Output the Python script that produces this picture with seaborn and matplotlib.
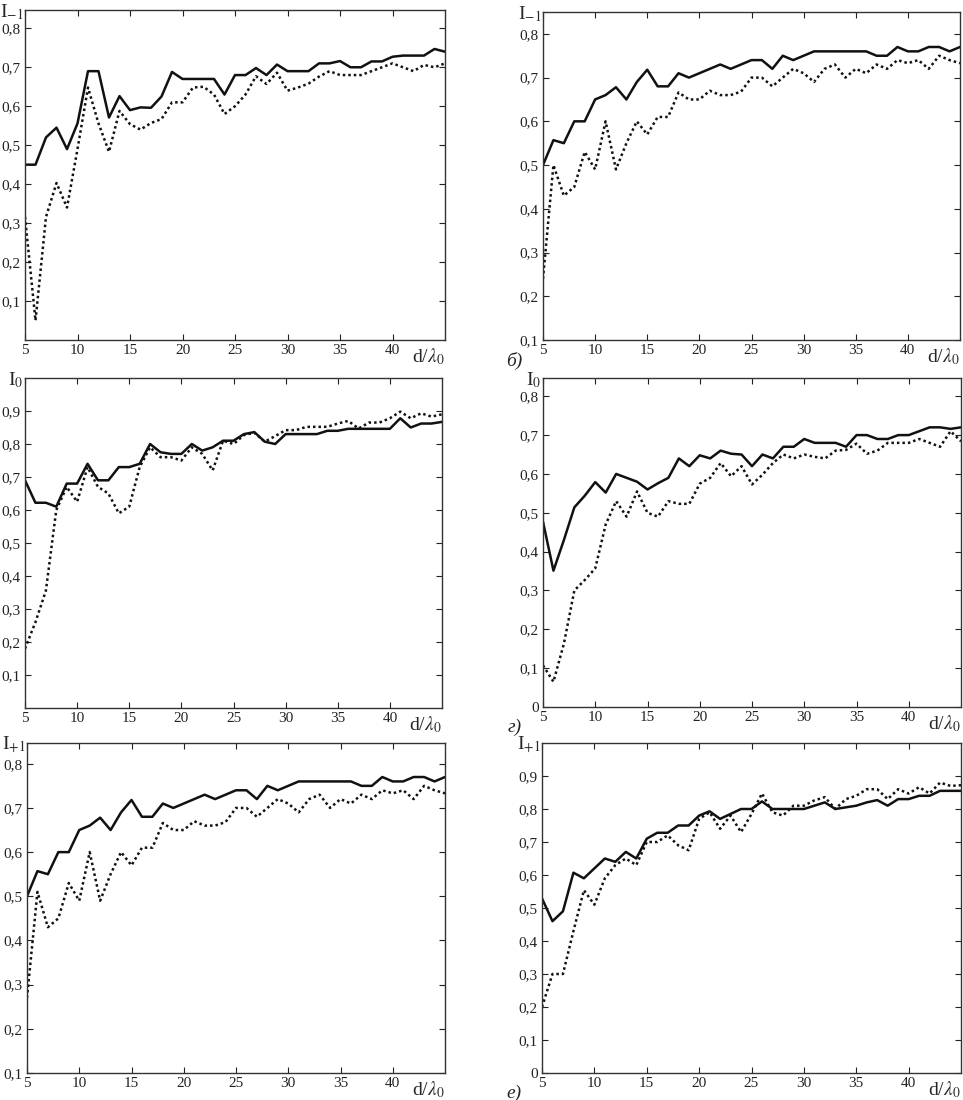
import numpy as np
import pandas as pd
import seaborn as sns
import matplotlib.pyplot as plt

# d/lambda_0 values, common to all panels
d_lambda = list(range(5, 46))

# panel a: I_-1
a_solid = [0.45, 0.45, 0.52, 0.545, 0.49, 0.556, 0.69, 0.69, 0.571, 0.626, 0.59, 0.597, 0.596, 0.625,
           0.688, 0.67, 0.67, 0.67, 0.67, 0.63, 0.68, 0.68, 0.698, 0.68, 0.707, 0.69, 0.69, 0.69, 0.71,
           0.71, 0.716, 0.70, 0.70, 0.715, 0.715, 0.727, 0.73, 0.73, 0.73, 0.747, 0.74]
a_dot = [0.316, 0.05, 0.316, 0.403, 0.34, 0.49, 0.648, 0.556, 0.483, 0.588, 0.554, 0.54, 0.557, 0.567,
         0.61, 0.61, 0.648, 0.65, 0.63, 0.58, 0.60, 0.63, 0.677, 0.657, 0.686, 0.64, 0.648, 0.658, 0.676,
         0.69, 0.68, 0.68, 0.68, 0.69, 0.70, 0.71, 0.70, 0.69, 0.706, 0.70, 0.71]

# panel b: I_-1
b_solid = [0.50, 0.557, 0.55, 0.60, 0.60, 0.65, 0.66, 0.678, 0.65, 0.69, 0.718, 0.68, 0.68, 0.71,
           0.70, 0.71, 0.72, 0.73, 0.72, 0.73, 0.74, 0.74, 0.72, 0.75, 0.74, 0.75, 0.76, 0.76, 0.76,
           0.76, 0.76, 0.76, 0.75, 0.75, 0.77, 0.76, 0.76, 0.77, 0.77, 0.76, 0.77]
b_dot = [0.24, 0.50, 0.43, 0.45, 0.53, 0.49, 0.60, 0.49, 0.55, 0.60, 0.57, 0.61, 0.61, 0.666,
         0.65, 0.65, 0.67, 0.66, 0.66, 0.668, 0.70, 0.70, 0.68, 0.70, 0.72, 0.71, 0.69, 0.72, 0.73,
         0.70, 0.72, 0.71, 0.73, 0.72, 0.74, 0.733, 0.74, 0.72, 0.75, 0.74, 0.733]

# panel c: I_0
c_solid = [0.69, 0.622, 0.622, 0.61, 0.68, 0.68, 0.74, 0.69, 0.69, 0.73, 0.73, 0.74, 0.80, 0.775,
           0.77, 0.77, 0.80, 0.78, 0.79, 0.81, 0.81, 0.83, 0.836, 0.807, 0.80, 0.83, 0.83, 0.83, 0.83,
           0.84, 0.84, 0.846, 0.846, 0.846, 0.846, 0.846, 0.878, 0.85, 0.862, 0.862, 0.867]
c_dot = [0.18, 0.26, 0.355, 0.60, 0.67, 0.625, 0.73, 0.67, 0.65, 0.59, 0.61, 0.73, 0.79, 0.76,
         0.76, 0.75, 0.79, 0.77, 0.72, 0.81, 0.80, 0.827, 0.834, 0.807, 0.824, 0.842, 0.842, 0.852,
         0.852, 0.852, 0.862, 0.87, 0.847, 0.865, 0.865, 0.878, 0.898, 0.878, 0.893, 0.883, 0.89]

# panel d: I_0
d_solid = [0.477, 0.351, 0.43, 0.514, 0.544, 0.579, 0.552, 0.60, 0.59, 0.58, 0.56, 0.576, 0.59, 0.64,
           0.62, 0.648, 0.64, 0.66, 0.652, 0.65, 0.62, 0.65, 0.64, 0.67, 0.67, 0.69, 0.68, 0.68, 0.68,
           0.67, 0.70, 0.70, 0.69, 0.69, 0.70, 0.70, 0.71, 0.72, 0.72, 0.716, 0.72]
d_dot = [0.107, 0.065, 0.163, 0.30, 0.327, 0.357, 0.47, 0.53, 0.49, 0.555, 0.50, 0.49, 0.53, 0.523,
         0.523, 0.575, 0.59, 0.628, 0.594, 0.62, 0.573, 0.598, 0.628, 0.65, 0.64, 0.65, 0.644, 0.64,
         0.66, 0.662, 0.678, 0.652, 0.66, 0.68, 0.68, 0.68, 0.69, 0.68, 0.67, 0.71, 0.684]

# panel e: I_+1
e_solid = [0.50, 0.557, 0.55, 0.60, 0.60, 0.65, 0.66, 0.678, 0.65, 0.69, 0.718, 0.68, 0.68, 0.71,
           0.70, 0.71, 0.72, 0.73, 0.72, 0.73, 0.74, 0.74, 0.72, 0.75, 0.74, 0.75, 0.76, 0.76, 0.76,
           0.76, 0.76, 0.76, 0.75, 0.75, 0.77, 0.76, 0.76, 0.77, 0.77, 0.76, 0.77]
e_dot = [0.27, 0.51, 0.43, 0.45, 0.53, 0.49, 0.60, 0.49, 0.55, 0.60, 0.57, 0.61, 0.61, 0.666,
         0.65, 0.65, 0.67, 0.66, 0.66, 0.668, 0.70, 0.70, 0.68, 0.70, 0.72, 0.71, 0.69, 0.72, 0.73,
         0.70, 0.72, 0.71, 0.73, 0.72, 0.74, 0.733, 0.74, 0.72, 0.75, 0.74, 0.733]

# panel f: I_+1
f_solid = [0.529, 0.46, 0.49, 0.607, 0.59, 0.62, 0.65, 0.64, 0.67, 0.65, 0.71, 0.728, 0.728, 0.75,
           0.75, 0.78, 0.793, 0.77, 0.785, 0.80, 0.80, 0.823, 0.80, 0.80, 0.80, 0.80, 0.81, 0.82, 0.80,
           0.805, 0.81, 0.82, 0.827, 0.81, 0.83, 0.83, 0.84, 0.84, 0.855, 0.855, 0.855]
f_dot = [0.20, 0.30, 0.30, 0.43, 0.554, 0.51, 0.59, 0.63, 0.65, 0.63, 0.70, 0.70, 0.72, 0.69,
         0.675, 0.77, 0.79, 0.74, 0.78, 0.73, 0.785, 0.847, 0.79, 0.78, 0.81, 0.81, 0.826, 0.836, 0.80,
         0.83, 0.84, 0.86, 0.86, 0.83, 0.86, 0.847, 0.866, 0.847, 0.88, 0.87, 0.872]

x_ticks = [5, 10, 15, 20, 25, 30, 35, 40]
x_tick_labels = ["5", "10", "15", "20", "25", "30", "35", "40"]

panels = [
    # solid, dotted, ylabel, ymin, ymax, yticks, sublabel, box (left, top, right, bottom px)
    (a_solid, a_dot, r"I$_{-1}$", 0.0, 0.847, [0.1, 0.2, 0.3, 0.4, 0.5, 0.6, 0.7, 0.8], "", (25, 10, 445, 340)),
    (b_solid, b_dot, r"I$_{-1}$", 0.1, 0.85, [0.1, 0.2, 0.3, 0.4, 0.5, 0.6, 0.7, 0.8], "б)", (543, 12, 960, 340)),
    (c_solid, c_dot, r"I$_0$", 0.0, 1.0, [0.1, 0.2, 0.3, 0.4, 0.5, 0.6, 0.7, 0.8, 0.9], "", (25, 378, 442, 708)),
    (d_solid, d_dot, r"I$_0$", 0.0, 0.847, [0.0, 0.1, 0.2, 0.3, 0.4, 0.5, 0.6, 0.7, 0.8], "г)", (543, 378, 961, 707)),
    (e_solid, e_dot, r"I$_{+1}$", 0.1, 0.847, [0.1, 0.2, 0.3, 0.4, 0.5, 0.6, 0.7, 0.8], "", (27, 743, 445, 1073)),
    (f_solid, f_dot, r"I$_{+1}$", 0.0, 1.0, [0.0, 0.1, 0.2, 0.3, 0.4, 0.5, 0.6, 0.7, 0.8, 0.9], "е)", (542, 743, 961, 1073)),
]

sns.set_style("ticks")
plt.rcParams['font.family'] = ['Liberation Serif', 'DejaVu Serif']
plt.rcParams['mathtext.fontset'] = 'stix'

W, H = 963, 1100
fig = plt.figure(figsize=(W / 100, H / 100), dpi=100)

for solid, dot, ylab, ymin, ymax, yticks, sub, box in panels:
    l, t, r, b = box
    ax = fig.add_axes([l / W, 1 - b / H, (r - l) / W, (b - t) / H])
    df = pd.DataFrame({"d": d_lambda, "solid": solid, "dot": dot})
    sns.lineplot(data=df, x="d", y="solid", ax=ax, color="#111111", lw=1.8)
    sns.lineplot(data=df, x="d", y="dot", ax=ax, color="#111111", lw=1.8, linestyle=(0, (1, 1.2)))
    ax.set_xlim(5, 45)
    ax.set_ylim(ymin, ymax)
    ax.set_xticks(x_ticks)
    ax.set_xticklabels(x_tick_labels)
    ax.set_yticks(yticks)
    ax.set_yticklabels([("0" if v == 0 else f"{v:.1f}".replace(".", ",")) for v in yticks])
    ax.tick_params(direction="in", top=True, right=True, length=4, width=0.8,
                   labelsize=11, pad=3, colors="#222222")
    for s in ax.spines.values():
        s.set_linewidth(1.0)
        s.set_color("#333333")
    ax.set_xlabel("")
    ax.set_ylabel("")
    # axis name sits above the top tick label, left of the frame
    ax.text(-0.004, 1.0 + 8 / (b - t), ylab, transform=ax.transAxes,
            ha="right", va="top", fontsize=14)
    ax.text(1.0, -0.018, r"d/$\lambda_0$", transform=ax.transAxes, ha="right", va="top", fontsize=14)
    if sub:
        ax.text(-0.05, -0.035, sub, transform=ax.transAxes, ha="right", va="top",
                fontsize=14, style="italic")

fig.savefig("out.png", dpi=100)
